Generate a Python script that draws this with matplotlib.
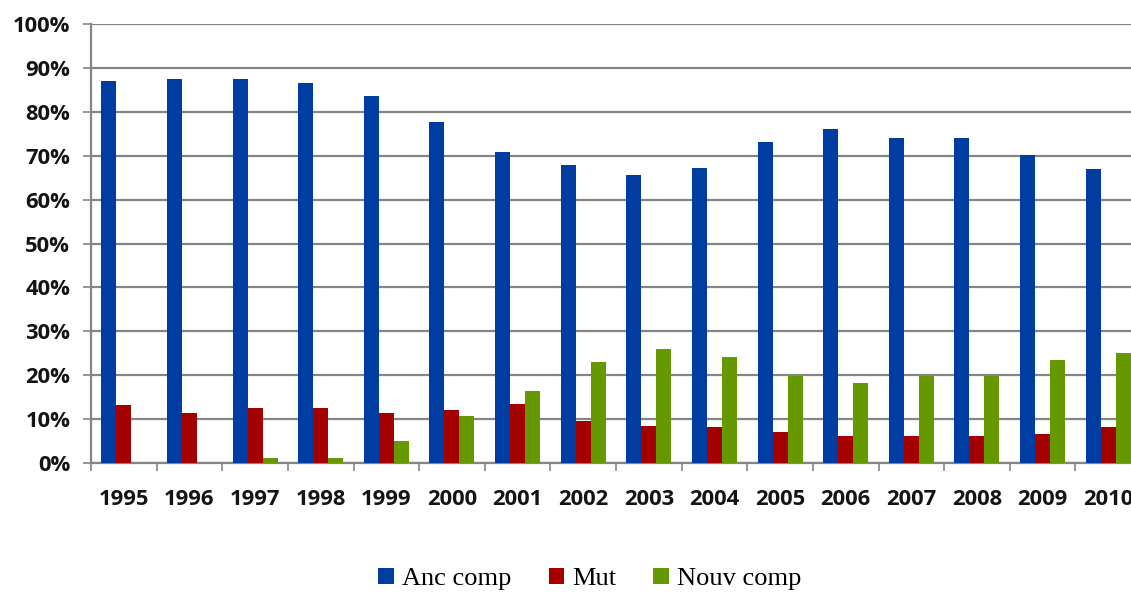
import matplotlib
matplotlib.use("Agg")
import matplotlib.pyplot as plt
import numpy as np
from matplotlib.patches import Patch

years = ["1995", "1996", "1997", "1998", "1999", "2000", "2001", "2002",
         "2003", "2004", "2005", "2006", "2007", "2008", "2009", "2010"]
anc_comp = [87.0, 87.4, 87.4, 86.5, 83.5, 77.6, 70.8, 67.8,
            65.5, 67.1, 73.2, 76.0, 74.0, 74.0, 70.1, 67.0]
mut = [13.1, 11.3, 12.6, 12.6, 11.5, 12.1, 13.4, 9.6,
       8.5, 8.3, 7.1, 6.2, 6.2, 6.2, 6.7, 8.3]
nouv_comp = [0.0, 0.0, 1.2, 1.2, 5.1, 10.8, 16.5, 23.1,
             26.0, 24.1, 19.9, 18.2, 19.9, 19.9, 23.5, 25.1]
series_names = ["Anc comp", "Mut", "Nouv comp"]
colors = ["#003DA3", "#A50000", "#669900"]

W, H = 1131, 593
fig = plt.figure(figsize=(W / 100, H / 100), dpi=100)
fig.patch.set_facecolor("white")
# plot area runs a little past the right edge of the figure
ax = fig.add_axes([91 / W, (H - 463) / H, (1141 - 91) / W, (463 - 24) / H])

n = len(years)
x = np.arange(n)
bw = 0.229
for i, (vals, c) in enumerate(zip([anc_comp, mut, nouv_comp], colors)):
    ax.bar(x + (i - 1) * bw, vals, width=bw, color=c, edgecolor="none", zorder=3)

ax.set_xlim(-0.5, n - 0.5)
ax.set_ylim(0, 100)

grid_c = "#858585"
ax.set_yticks(np.arange(0, 101, 10))
ax.set_yticklabels([f"{v}%" for v in range(0, 101, 10)])
ax.yaxis.grid(True, color=grid_c, linewidth=1.6, zorder=0)
ax.tick_params(axis="y", length=6, width=1.2, color=grid_c, pad=9,
               labelsize=15.8, labelcolor="#141414")

ax.set_xticks(np.arange(-0.5, n, 1.0))
ax.set_xticklabels([])
ax.set_xticks(x, minor=True)
ax.set_xticklabels(years, minor=True)
ax.tick_params(axis="x", which="major", length=6, width=1.2, color=grid_c)
ax.tick_params(axis="x", which="minor", length=0, pad=18.5,
               labelsize=15.8, labelcolor="#141414")

for lab in ax.get_yticklabels() + ax.get_xticklabels(minor=True):
    lab.set_fontfamily("Open Sans")
    lab.set_fontweight("bold")

for s in ["top", "right"]:
    ax.spines[s].set_visible(False)
for s in ["left", "bottom"]:
    ax.spines[s].set_color(grid_c)
    ax.spines[s].set_linewidth(1.6)

handles = [Patch(facecolor=c, edgecolor="none") for c in colors]
fig.legend(handles, series_names, loc="center", bbox_to_anchor=(590 / W, 1 - 579 / H),
           ncol=3, frameon=False, prop={"family": "Liberation Serif", "size": 19},
           handlelength=0.6, handleheight=0.6, handletextpad=0.3, columnspacing=1.4,
           borderaxespad=0, borderpad=0)

fig.savefig("out.png", dpi=100, facecolor="white")
